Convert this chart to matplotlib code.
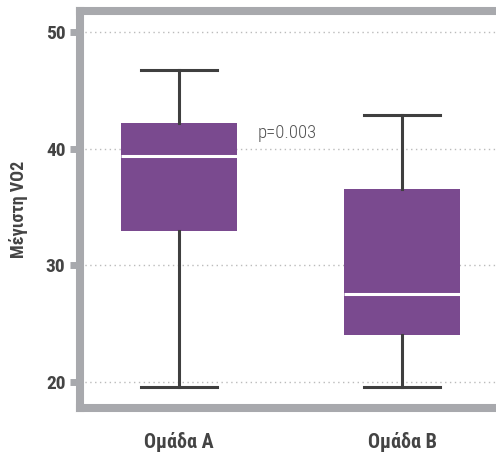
import matplotlib
matplotlib.use("Agg")
import matplotlib.pyplot as plt
from matplotlib import font_manager

groups = ["Ομάδα A", "Ομάδα B"]
whislo = [19.6, 19.6]
q1 = [32.9, 24.0]
med = [39.4, 27.5]
q3 = [42.2, 36.5]
whishi = [46.7, 42.9]
yticks = [20, 30, 40, 50]
p_text = "p=0.003"

names = {f.name for f in font_manager.fontManager.ttflist}
fam = [f for f in ["Roboto Condensed", "Liberation Sans Narrow", "Roboto", "DejaVu Sans"] if f in names]
plt.rcParams['font.family'] = fam

purple = "#7a4a8f"
frame = "#a8a9ad"
dark = "#444444"

fig = plt.figure(figsize=(4.96, 4.53), dpi=100)
ax = fig.add_axes([80/496, 45/453, 1 - 80/496, (442-45)/453])

stats = [dict(whislo=whislo[i], q1=q1[i], med=med[i], q3=q3[i], whishi=whishi[i], fliers=[], label=groups[i]) for i in range(2)]
ax.bxp(stats, positions=[0, 1], widths=0.52, patch_artist=True, showfliers=False,
       boxprops=dict(facecolor=purple, edgecolor=purple, linewidth=0),
       medianprops=dict(color="white", linewidth=2.2),
       whiskerprops=dict(color="#3f3f3f", linewidth=2.2),
       capprops=dict(color="#3f3f3f", linewidth=2.2),
       capwidths=0.34, zorder=3)

ax.set_xlim(-0.444, 1.42)
ax.set_ylim(17.77, 51.8)
ax.set_yticks(yticks)
ax.set_xticks([0, 1])
ax.set_xticklabels(groups)
ax.yaxis.grid(True, linestyle=(0, (1, 2.5)), color="#bbbbbb", linewidth=1.0, zorder=0)
ax.set_axisbelow(True)

for s in ["left", "top", "bottom"]:
    ax.spines[s].set_color(frame)
    ax.spines[s].set_linewidth(5.8)
ax.spines["right"].set_visible(False)

ax.tick_params(axis="y", length=7.5, width=5, color=frame, labelsize=14, labelcolor=dark, pad=3)
ax.tick_params(axis="x", length=0, labelsize=14.5, labelcolor=dark, pad=17)
for lbl in ax.get_yticklabels() + ax.get_xticklabels():
    lbl.set_fontweight("bold")

ax.set_ylabel("Μέγιστη VO2", fontsize=13, fontweight="bold", color=dark, labelpad=13)
ax.text(0.354, 41.35, p_text, fontsize=13.5, fontweight="light", color="#555555", ha="left", va="center")

fig.savefig("out.png", dpi=100)
